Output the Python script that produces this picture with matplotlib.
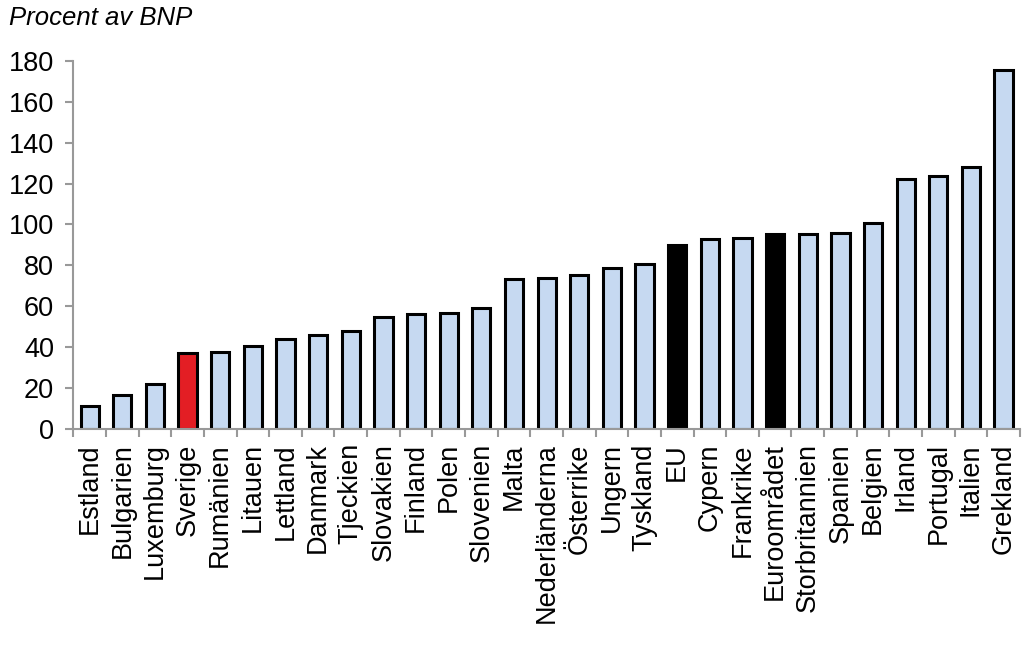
import numpy as np
import matplotlib.pyplot as plt

plt.rcParams['font.family'] = ['Liberation Sans', 'DejaVu Sans']

lander = ['Estland', 'Bulgarien', 'Luxemburg', 'Sverige', 'Rumänien', 'Litauen',
          'Lettland', 'Danmark', 'Tjeckien', 'Slovakien', 'Finland', 'Polen',
          'Slovenien', 'Malta', 'Nederländerna', 'Österrike', 'Ungern', 'Tyskland',
          'EU', 'Cypern', 'Frankrike', 'Euroområdet', 'Storbritannien', 'Spanien',
          'Belgien', 'Irland', 'Portugal', 'Italien', 'Grekland']
skuld = [11.6, 16.9, 22.1, 37.1, 37.9, 40.5, 44.3, 45.9, 47.9, 55.0, 56.3, 57.0,
         59.4, 73.6, 73.9, 75.2, 78.6, 80.6, 89.8, 92.9, 93.3, 95.2, 95.4, 95.7,
         100.7, 122.2, 123.9, 127.9, 175.5]

farger = []
for l in lander:
    if l == 'Sverige':
        farger.append('#E31E24')
    elif l in ('EU', 'Euroområdet'):
        farger.append('black')
    else:
        farger.append('#C6D9F1')

fig = plt.figure(figsize=(10.23, 6.45), dpi=100)
ax = fig.add_axes([0.0717, 0.3344, 0.9253, 0.5716])

x = np.arange(len(lander))
ax.bar(x, skuld, width=0.56, color=farger, edgecolor='black', linewidth=2.2)

ax.set_xlim(-0.5, len(lander) - 0.5)
ax.set_ylim(0, 180)
ax.set_yticks(np.arange(0, 181, 20))
ax.set_xticks(x)
ax.set_xticklabels(lander, rotation=90, fontsize=19.5)
ax.set_xticks(np.arange(-0.5, len(lander), 1), minor=True)
ax.tick_params(axis='x', which='major', length=0, pad=10)
ax.tick_params(axis='x', which='minor', length=6, width=1.5, color='#999999', direction='out')
ax.tick_params(axis='y', length=6, width=1.5, color='#999999', labelsize=19.5, pad=8)

for s in ['top', 'right']:
    ax.spines[s].set_visible(False)
for s in ['left', 'bottom']:
    ax.spines[s].set_color('#999999')
    ax.spines[s].set_linewidth(1.5)

fig.text(0.009, 0.972, 'Procent av BNP', fontsize=18.5, style='italic', va='center', ha='left')

plt.savefig('out.png', dpi=100)
